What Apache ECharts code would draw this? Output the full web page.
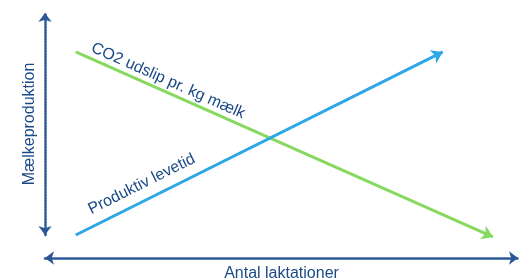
<!DOCTYPE html>
<html>
<head>
<meta charset="utf-8">
<script src="https://cdn.jsdelivr.net/npm/echarts@6/dist/echarts.min.js"></script>
<style>
  html, body { margin: 0; padding: 0; background: #fff; }
  #chart { width: 525px; height: 279px; }
</style>
</head>
<body>
<div id="chart"></div>
<script>
// Axis titles
const xAxisName = 'Antal laktationer'
const yAxisName = 'Mælkeproduktion'

// Line names and endpoints [x, y] on a 0..100 conceptual scale
const seriesNames = ['CO2 udslip pr. kg mælk', 'Produktiv levetid']
const co2Line = [[6.5, 84.1], [94.7, 8.6]]
const levetidLine = [[6.5, 9.4], [84.1, 84.1]]

const textColor = '#1b4a86'
const axisColor = '#2a5796'
const font = 'Arial, "Liberation Sans", sans-serif'

const chart = echarts.init(document.getElementById('chart'), null, { renderer: 'canvas' })

// decorative axis with dotted line and arrows at both ends
const decoAxis = (extra) => Object.assign({
  type: 'value',
  gridIndex: 0,
  min: 0,
  max: 100,
  nameLocation: 'middle',
  nameTextStyle: { color: textColor, fontSize: 16, fontFamily: font },
  axisLine: {
    show: true,
    onZero: false,
    symbol: ['arrow', 'arrow'],
    symbolSize: [10, 9],
    lineStyle: { color: axisColor, width: 2.5, type: [1.5, 1.5] }
  },
  axisTick: { show: false },
  axisLabel: { show: false },
  splitLine: { show: false }
}, extra)

// hidden axis carrying the data
const dataAxis = {
  type: 'value',
  gridIndex: 1,
  min: 0,
  max: 100,
  show: false
}

const arrowLine = (name, pts, color, labelDist) => ({
  name,
  type: 'line',
  xAxisIndex: 1,
  yAxisIndex: 1,
  data: [],
  silent: true,
  markLine: {
    silent: true,
    animation: false,
    symbol: ['none', 'arrow'],
    symbolSize: 11,
    lineStyle: { color, width: 3, type: 'solid' },
    label: {
      show: true,
      formatter: name,
      position: 'insideStartTop',
      distance: labelDist,
      color: textColor,
      fontSize: 16,
      fontFamily: font
    },
    data: [[{ coord: pts[0] }, { coord: pts[1] }]]
  }
})

chart.setOption({
  animation: false,
  grid: [
    { left: 45, right: 7, top: 13, bottom: 44, outerBoundsMode: 'none' },
    { left: 45, right: 7, top: 13, bottom: 21, outerBoundsMode: 'none' }
  ],
  xAxis: [
    decoAxis({ offset: 23, name: xAxisName, nameGap: 8 }),
    dataAxis
  ],
  yAxis: [
    decoAxis({ name: yAxisName, nameGap: 7 }),
    dataAxis
  ],
  series: [
    arrowLine(seriesNames[0], co2Line, '#86d95e', [13, 3]),
    arrowLine(seriesNames[1], levetidLine, '#2ea7e6', [23, 8])
  ]
})
</script>
</body>
</html>
